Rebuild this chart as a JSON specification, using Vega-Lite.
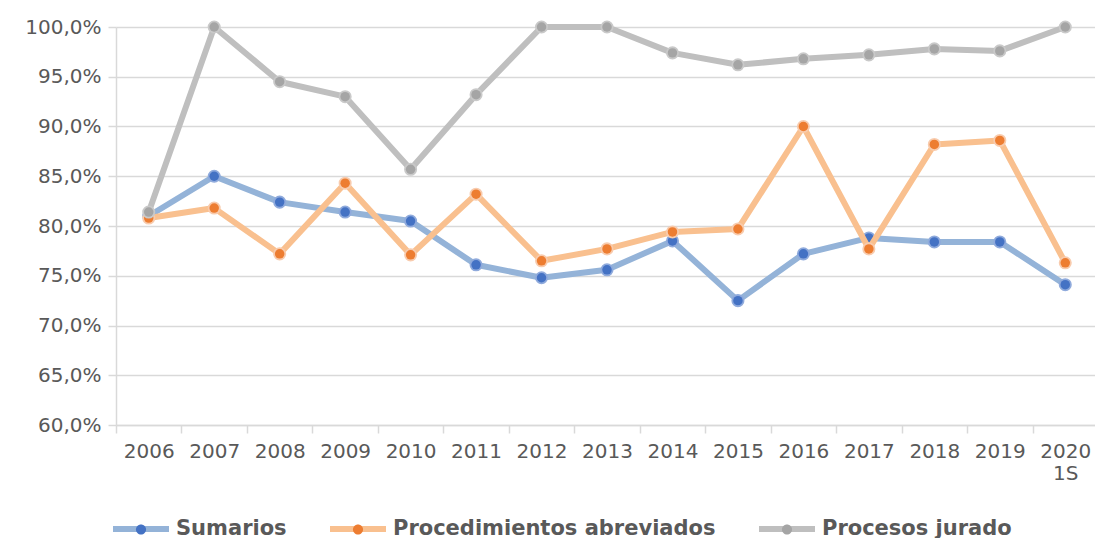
{
  "$schema": "https://vega.github.io/schema/vega-lite/v6.json",
  "width": 982,
  "height": 398,
  "autosize": {"type": "none"},
  "padding": {"left": 116, "top": 27, "right": 0, "bottom": 113},
  "background": "white",
  "config": {
    "view": {"stroke": null},
    "font": "DejaVu Sans",
    "axis": {"labelFont": "DejaVu Sans", "labelFontSize": 20, "labelColor": "#595959", "domainColor": "#D9D9D9", "tickColor": "#D9D9D9", "domainWidth": 1.5, "tickWidth": 1.5, "tickSize": 8, "title": null}
  },
  "data": {
    "values": [
      {"anio": "2006", "serie": "Sumarios", "valor": 0.810},
      {"anio": "2007", "serie": "Sumarios", "valor": 0.850},
      {"anio": "2008", "serie": "Sumarios", "valor": 0.824},
      {"anio": "2009", "serie": "Sumarios", "valor": 0.814},
      {"anio": "2010", "serie": "Sumarios", "valor": 0.805},
      {"anio": "2011", "serie": "Sumarios", "valor": 0.761},
      {"anio": "2012", "serie": "Sumarios", "valor": 0.748},
      {"anio": "2013", "serie": "Sumarios", "valor": 0.756},
      {"anio": "2014", "serie": "Sumarios", "valor": 0.785},
      {"anio": "2015", "serie": "Sumarios", "valor": 0.725},
      {"anio": "2016", "serie": "Sumarios", "valor": 0.772},
      {"anio": "2017", "serie": "Sumarios", "valor": 0.788},
      {"anio": "2018", "serie": "Sumarios", "valor": 0.784},
      {"anio": "2019", "serie": "Sumarios", "valor": 0.784},
      {"anio": "2020 1S", "serie": "Sumarios", "valor": 0.741},
      {"anio": "2006", "serie": "Procedimientos abreviados", "valor": 0.808},
      {"anio": "2007", "serie": "Procedimientos abreviados", "valor": 0.818},
      {"anio": "2008", "serie": "Procedimientos abreviados", "valor": 0.772},
      {"anio": "2009", "serie": "Procedimientos abreviados", "valor": 0.843},
      {"anio": "2010", "serie": "Procedimientos abreviados", "valor": 0.771},
      {"anio": "2011", "serie": "Procedimientos abreviados", "valor": 0.832},
      {"anio": "2012", "serie": "Procedimientos abreviados", "valor": 0.765},
      {"anio": "2013", "serie": "Procedimientos abreviados", "valor": 0.777},
      {"anio": "2014", "serie": "Procedimientos abreviados", "valor": 0.794},
      {"anio": "2015", "serie": "Procedimientos abreviados", "valor": 0.797},
      {"anio": "2016", "serie": "Procedimientos abreviados", "valor": 0.900},
      {"anio": "2017", "serie": "Procedimientos abreviados", "valor": 0.777},
      {"anio": "2018", "serie": "Procedimientos abreviados", "valor": 0.882},
      {"anio": "2019", "serie": "Procedimientos abreviados", "valor": 0.886},
      {"anio": "2020 1S", "serie": "Procedimientos abreviados", "valor": 0.763},
      {"anio": "2006", "serie": "Procesos jurado", "valor": 0.814},
      {"anio": "2007", "serie": "Procesos jurado", "valor": 1.000},
      {"anio": "2008", "serie": "Procesos jurado", "valor": 0.945},
      {"anio": "2009", "serie": "Procesos jurado", "valor": 0.930},
      {"anio": "2010", "serie": "Procesos jurado", "valor": 0.857},
      {"anio": "2011", "serie": "Procesos jurado", "valor": 0.932},
      {"anio": "2012", "serie": "Procesos jurado", "valor": 1.000},
      {"anio": "2013", "serie": "Procesos jurado", "valor": 1.000},
      {"anio": "2014", "serie": "Procesos jurado", "valor": 0.974},
      {"anio": "2015", "serie": "Procesos jurado", "valor": 0.962},
      {"anio": "2016", "serie": "Procesos jurado", "valor": 0.968},
      {"anio": "2017", "serie": "Procesos jurado", "valor": 0.972},
      {"anio": "2018", "serie": "Procesos jurado", "valor": 0.978},
      {"anio": "2019", "serie": "Procesos jurado", "valor": 0.976},
      {"anio": "2020 1S", "serie": "Procesos jurado", "valor": 1.000}
    ]
  },
  "encoding": {
    "x": {
      "field": "anio", "type": "ordinal", "sort": null,
      "scale": {"type": "band", "paddingInner": 0, "paddingOuter": 0},
      "axis": {"tickBand": "extent", "labelAngle": 0, "labelPadding": 8, "labelLineHeight": 22, "labelExpr": "datum.label == '2020 1S' ? ['2020', '1S'] : datum.label"}
    },
    "y": {
      "field": "valor", "type": "quantitative",
      "scale": {"domain": [0.6, 1.0], "nice": false, "zero": false},
      "axis": {"values": [0.6, 0.65, 0.7, 0.75, 0.8, 0.85, 0.9, 0.95, 1.0], "labelExpr": "replace(format(datum.value, '.1%'), '.', ',')", "labelPadding": 7, "grid": true, "gridColor": "#D9D9D9", "gridWidth": 1.5}
    }
  },
  "layer": [
    {
      "transform": [{"filter": "datum.serie == 'Sumarios'"}],
      "mark": {"type": "line", "strokeWidth": 6, "strokeCap": "round", "strokeJoin": "round"},
      "encoding": {
        "color": {
          "field": "serie", "type": "nominal",
          "scale": {"domain": ["Sumarios", "Procedimientos abreviados", "Procesos jurado"], "range": ["#94B3D8", "#F9C08F", "#BFBFBF"]},
          "legend": {"orient": "none", "legendX": -6, "legendY": 471, "zindex": 0, "direction": "horizontal", "title": null, "padding": 0, "values": ["Sumarios", "Procedimientos abreviados", "Procesos jurado"], "symbolType": "stroke", "symbolSize": 3136, "symbolStrokeWidth": 6, "labelFont": "DejaVu Sans", "labelFontWeight": "bold", "labelFontSize": 21, "labelColor": "#595959", "labelOffset": 4, "columnPadding": 31, "labelLimit": 500}
        }
      }
    },
    {
      "transform": [{"filter": "datum.serie == 'Sumarios'"}],
      "mark": {"type": "point", "filled": true, "size": 170, "color": "#8FAADC", "opacity": 1},
      "encoding": {}
    },
    {
      "transform": [{"filter": "datum.serie == 'Sumarios'"}],
      "mark": {"type": "point", "filled": true, "size": 90, "opacity": 1},
      "encoding": {
        "fill": {
          "field": "serie", "type": "nominal",
          "scale": {"domain": ["Procesos jurado", "Procedimientos abreviados", "Sumarios"], "range": ["#A5A5A5", "#ED7D31", "#4472C4"]},
          "legend": {"orient": "none", "legendX": -6, "legendY": 471, "zindex": 1, "direction": "horizontal", "title": null, "padding": 0, "values": ["Sumarios", "Procedimientos abreviados", "Procesos jurado"], "symbolType": "M-1,0M1,0M-0.18,0A0.18,0.18,0,1,1,0.18,0A0.18,0.18,0,1,1,-0.18,0Z", "symbolSize": 3136, "symbolStrokeWidth": 6, "symbolStrokeColor": "transparent", "symbolOpacity": 1, "labelFont": "DejaVu Sans", "labelFontWeight": "bold", "labelFontSize": 21, "labelColor": "#595959", "labelOpacity": 0, "labelOffset": 4, "columnPadding": 31, "labelLimit": 500}
        }
      }
    },
    {
      "transform": [{"filter": "datum.serie == 'Procedimientos abreviados'"}],
      "mark": {"type": "line", "strokeWidth": 6, "strokeCap": "round", "strokeJoin": "round"},
      "encoding": {"color": {"field": "serie", "type": "nominal"}}
    },
    {
      "transform": [{"filter": "datum.serie == 'Procedimientos abreviados'"}],
      "mark": {"type": "point", "filled": true, "size": 170, "color": "#F8CBAD", "opacity": 1},
      "encoding": {}
    },
    {
      "transform": [{"filter": "datum.serie == 'Procedimientos abreviados'"}],
      "mark": {"type": "point", "filled": true, "size": 90, "opacity": 1},
      "encoding": {"fill": {"field": "serie", "type": "nominal"}}
    },
    {
      "transform": [{"filter": "datum.serie == 'Procesos jurado'"}],
      "mark": {"type": "line", "strokeWidth": 6, "strokeCap": "round", "strokeJoin": "round"},
      "encoding": {"color": {"field": "serie", "type": "nominal"}}
    },
    {
      "transform": [{"filter": "datum.serie == 'Procesos jurado'"}],
      "mark": {"type": "point", "filled": true, "size": 170, "color": "#C9C9C9", "opacity": 1},
      "encoding": {}
    },
    {
      "transform": [{"filter": "datum.serie == 'Procesos jurado'"}],
      "mark": {"type": "point", "filled": true, "size": 90, "opacity": 1},
      "encoding": {"fill": {"field": "serie", "type": "nominal"}}
    }
  ]
}
